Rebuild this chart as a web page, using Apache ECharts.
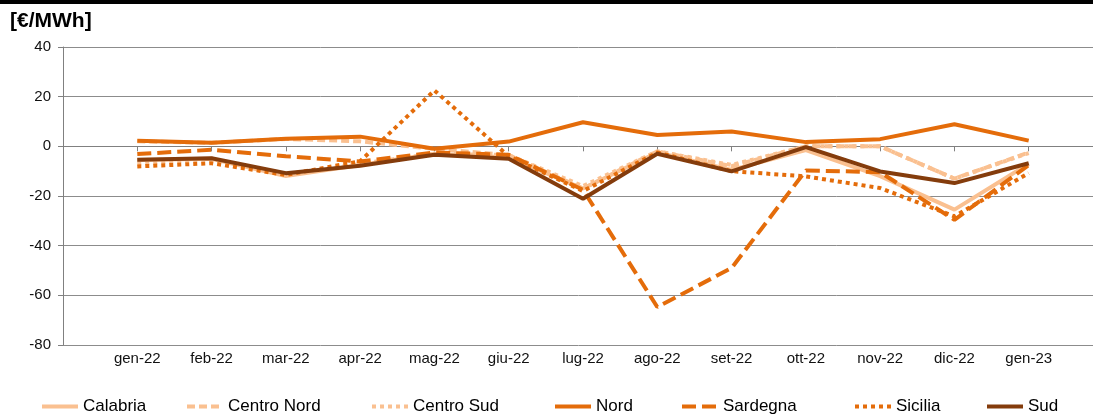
<!DOCTYPE html>
<html>
<head>
  <meta charset="UTF-8">
  <script src="https://cdn.jsdelivr.net/npm/echarts@6/dist/echarts.min.js"></script>
  <style>
    html, body { margin: 0; padding: 0; background: #fff; }
    #main { width: 1093px; height: 419px; }
  </style>
</head>
<body>
  <div id="main"></div>
  <script>
    // mesi
    var months = ['gen-22', 'feb-22', 'mar-22', 'apr-22', 'mag-22', 'giu-22', 'lug-22',
                  'ago-22', 'set-22', 'ott-22', 'nov-22', 'dic-22', 'gen-23'];

    // valori [€/MWh]
    var calabria   = [-5.5, -5, -12, -7.5, -3, -4.5, -17, -2.5, -9.5, -1.5, -12, -25.5, -7];
    var centroNord = [2, 1.4, 3, 2, -1, -3.5, -17, -2, -8, 0, 0, -13, -2.5];
    var centroSud  = [-7, -5, -11.5, -7, -3, -3.5, -16, -2, -7.5, 0, 0, -13, -2.7];
    var nord       = [2.2, 1.4, 3.1, 3.9, -1, 1.9, 9.7, 4.6, 6, 1.7, 2.9, 8.9, 2.3];
    var sardegna   = [-3.1, -1.4, -4, -6.1, -2.5, -3.4, -17.5, -64.7, -49, -9.7, -10.4, -29.6, -7.5];
    var sicilia    = [-8.1, -6.8, -11.5, -6, 22.5, -4, -18, -2.5, -10, -12.1, -16.8, -28.2, -10.8];
    var sud        = [-5.4, -4.8, -10.8, -7.8, -3.4, -5, -21.1, -3, -10.1, -0.3, -10.1, -14.8, -6.8];

    var yTicks = [-80, -60, -40, -20, 0, 20, 40];

    var light = '#FAC090', orange = '#E46C0A', brown = '#843C0C';

    // un posto vuoto a sinistra e a destra come nel grafico originale
    var cats = [''].concat(months).concat(['']);
    function pad(a) { return [null].concat(a).concat([null]); }

    function line(name, data, color, type) {
      return {
        name: name,
        type: 'line',
        data: pad(data),
        symbol: 'none',
        connectNulls: false,
        lineStyle: { color: color, width: 4, type: type, cap: 'butt' },
        itemStyle: { color: color }
      };
    }

    var legendNames = ['Calabria', 'Centro Nord', 'Centro Sud', 'Nord', 'Sardegna', 'Sicilia', 'Sud'];
    var legendLeft = [35, 180, 365, 548, 675, 848, 980];

    var myChart = echarts.init(document.getElementById('main'));
    myChart.setOption({
      animation: false,
      textStyle: { fontFamily: 'Liberation Sans, Arial, sans-serif' },
      graphic: [
        { type: 'rect', shape: { x: 0, y: 0, width: 1093, height: 4 }, style: { fill: '#000' } },
        { type: 'text', left: 10, top: 11,
          style: { text: '[€/MWh]', font: 'bold 21px "Liberation Sans", Arial, sans-serif', fill: '#000' } }
      ],
      legend: legendNames.map(function (n, i) {
        return {
          data: [n],
          left: legendLeft[i],
          top: 393,
          itemWidth: 36,
          itemHeight: 14,
          itemGap: 4,
          itemStyle: { opacity: 0 },
          lineStyle: { width: 4 },
          textStyle: { fontFamily: '"Liberation Sans Narrow", "Arial Narrow", sans-serif', fontSize: 17, color: '#000' }
        };
      }),
      grid: { left: 63, top: 47, right: -10, height: 298, outerBoundsMode: 'none' },
      xAxis: {
        type: 'category',
        data: cats,
        boundaryGap: false,
        axisLine: { lineStyle: { color: '#808080', width: 1 } },
        axisTick: { length: 5, lineStyle: { color: '#808080' } },
        axisLabel: { interval: 0, color: '#111', fontSize: 15, margin: 6 },
        splitLine: { show: false }
      },
      yAxis: {
        type: 'value',
        min: yTicks[0],
        max: yTicks[yTicks.length - 1],
        interval: 20,
        axisLine: { show: true, lineStyle: { color: '#808080', width: 1 } },
        axisTick: { show: true, length: 5, lineStyle: { color: '#808080' } },
        axisLabel: { color: '#111', fontSize: 15, margin: 12 },
        splitLine: { lineStyle: { color: '#8c8c8c', width: 1 } }
      },
      series: [
        line('Calabria', calabria, light, 'solid'),
        line('Centro Nord', centroNord, light, [8, 4]),
        line('Centro Sud', centroSud, light, [4, 4]),
        line('Nord', nord, orange, 'solid'),
        line('Sardegna', sardegna, orange, [14, 6]),
        line('Sicilia', sicilia, orange, [4, 4]),
        line('Sud', sud, brown, 'solid')
      ]
    });
  </script>
</body>
</html>
